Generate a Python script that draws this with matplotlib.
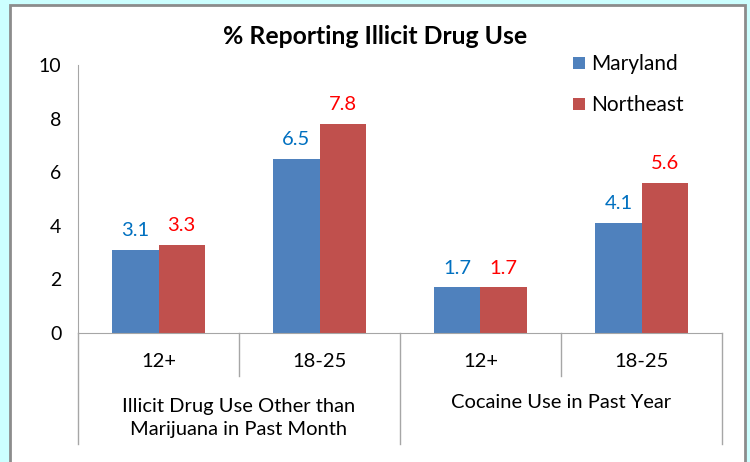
import numpy as np
import matplotlib.pyplot as plt
from matplotlib.patches import Rectangle
import matplotlib.transforms as mtransforms

# data
ages = ['12+', '18-25', '12+', '18-25']
groups = ['Illicit Drug Use Other than\nMarijuana in Past Month', 'Cocaine Use in Past Year']
maryland = [3.1, 6.5, 1.7, 4.1]
northeast = [3.3, 7.8, 1.7, 5.6]

blue = '#4F81BD'
red = '#C0504D'

plt.rcParams['font.family'] = ['Lato', 'DejaVu Sans']

fig = plt.figure(figsize=(7.5, 4.62), dpi=100)
fig.patch.set_facecolor('#CCFFFF')
# white panel with gray border
fig.patches.append(Rectangle((10 / 750, -0.05), 735 / 750, 1.05 - 5 / 462,
                             transform=fig.transFigure, facecolor='white',
                             edgecolor='#8C8C8C', linewidth=2, zorder=-5))

ax = fig.add_axes([78 / 750, 1 - 333 / 462, 644 / 750, 268 / 462])
ax.set_facecolor('none')

x = np.arange(len(ages))
w = 0.286
b1 = ax.bar(x - w / 2, maryland, w, color=blue, label='Maryland')
b2 = ax.bar(x + w / 2, northeast, w, color=red, label='Northeast')

for rect, v in zip(b1, maryland):
    ax.text(rect.get_x() + rect.get_width() / 2, v + 0.4, f'{v:.1f}',
            ha='center', va='bottom', color='#0070C0', fontsize=14.5)
for rect, v in zip(b2, northeast):
    ax.text(rect.get_x() + rect.get_width() / 2, v + 0.4, f'{v:.1f}',
            ha='center', va='bottom', color='#FF0000', fontsize=14.5)

ax.set_xlim(-0.5, 3.5)
ax.set_ylim(0, 10)
ax.set_yticks(range(0, 11, 2))
ax.tick_params(axis='y', length=0, labelsize=14, pad=12)
ax.set_xticks([])
for s in ['top', 'right']:
    ax.spines[s].set_visible(False)
ax.spines['left'].set_color('#A6A6A6')
ax.spines['bottom'].set_color('#A6A6A6')

# category separators below the axis
trans = mtransforms.blended_transform_factory(ax.transData, ax.transAxes)
for xb in [-0.5, 0.5, 1.5, 2.5, 3.5]:
    bottom = -0.414 if xb in (-0.5, 1.5, 3.5) else -0.16
    ax.plot([xb, xb], [0, bottom], color='#A6A6A6', lw=1, transform=trans, clip_on=False)
for xi, lab in zip(x, ages):
    ax.text(xi, -0.108, lab, ha='center', va='center', fontsize=14.5, transform=trans)
ax.text(0.5, -0.318, groups[0], ha='center', va='center', fontsize=14.5,
        transform=trans, linespacing=1.4)
ax.text(2.5, -0.261, groups[1], ha='center', va='center', fontsize=14.5, transform=trans)

fig.text(0.5, 1 - 37 / 462, '% Reporting Illicit Drug Use', ha='center', va='center',
         fontsize=17.8, fontweight='bold')

ax.legend(loc='upper left', bbox_to_anchor=(565 / 750, 1 - 46 / 462),
          bbox_transform=fig.transFigure, frameon=False, fontsize=15,
          handlelength=0.55, handleheight=0.55, handletextpad=0.3, labelspacing=1.0,
          borderaxespad=0)

fig.savefig('out.png', dpi=100, facecolor=fig.get_facecolor())
